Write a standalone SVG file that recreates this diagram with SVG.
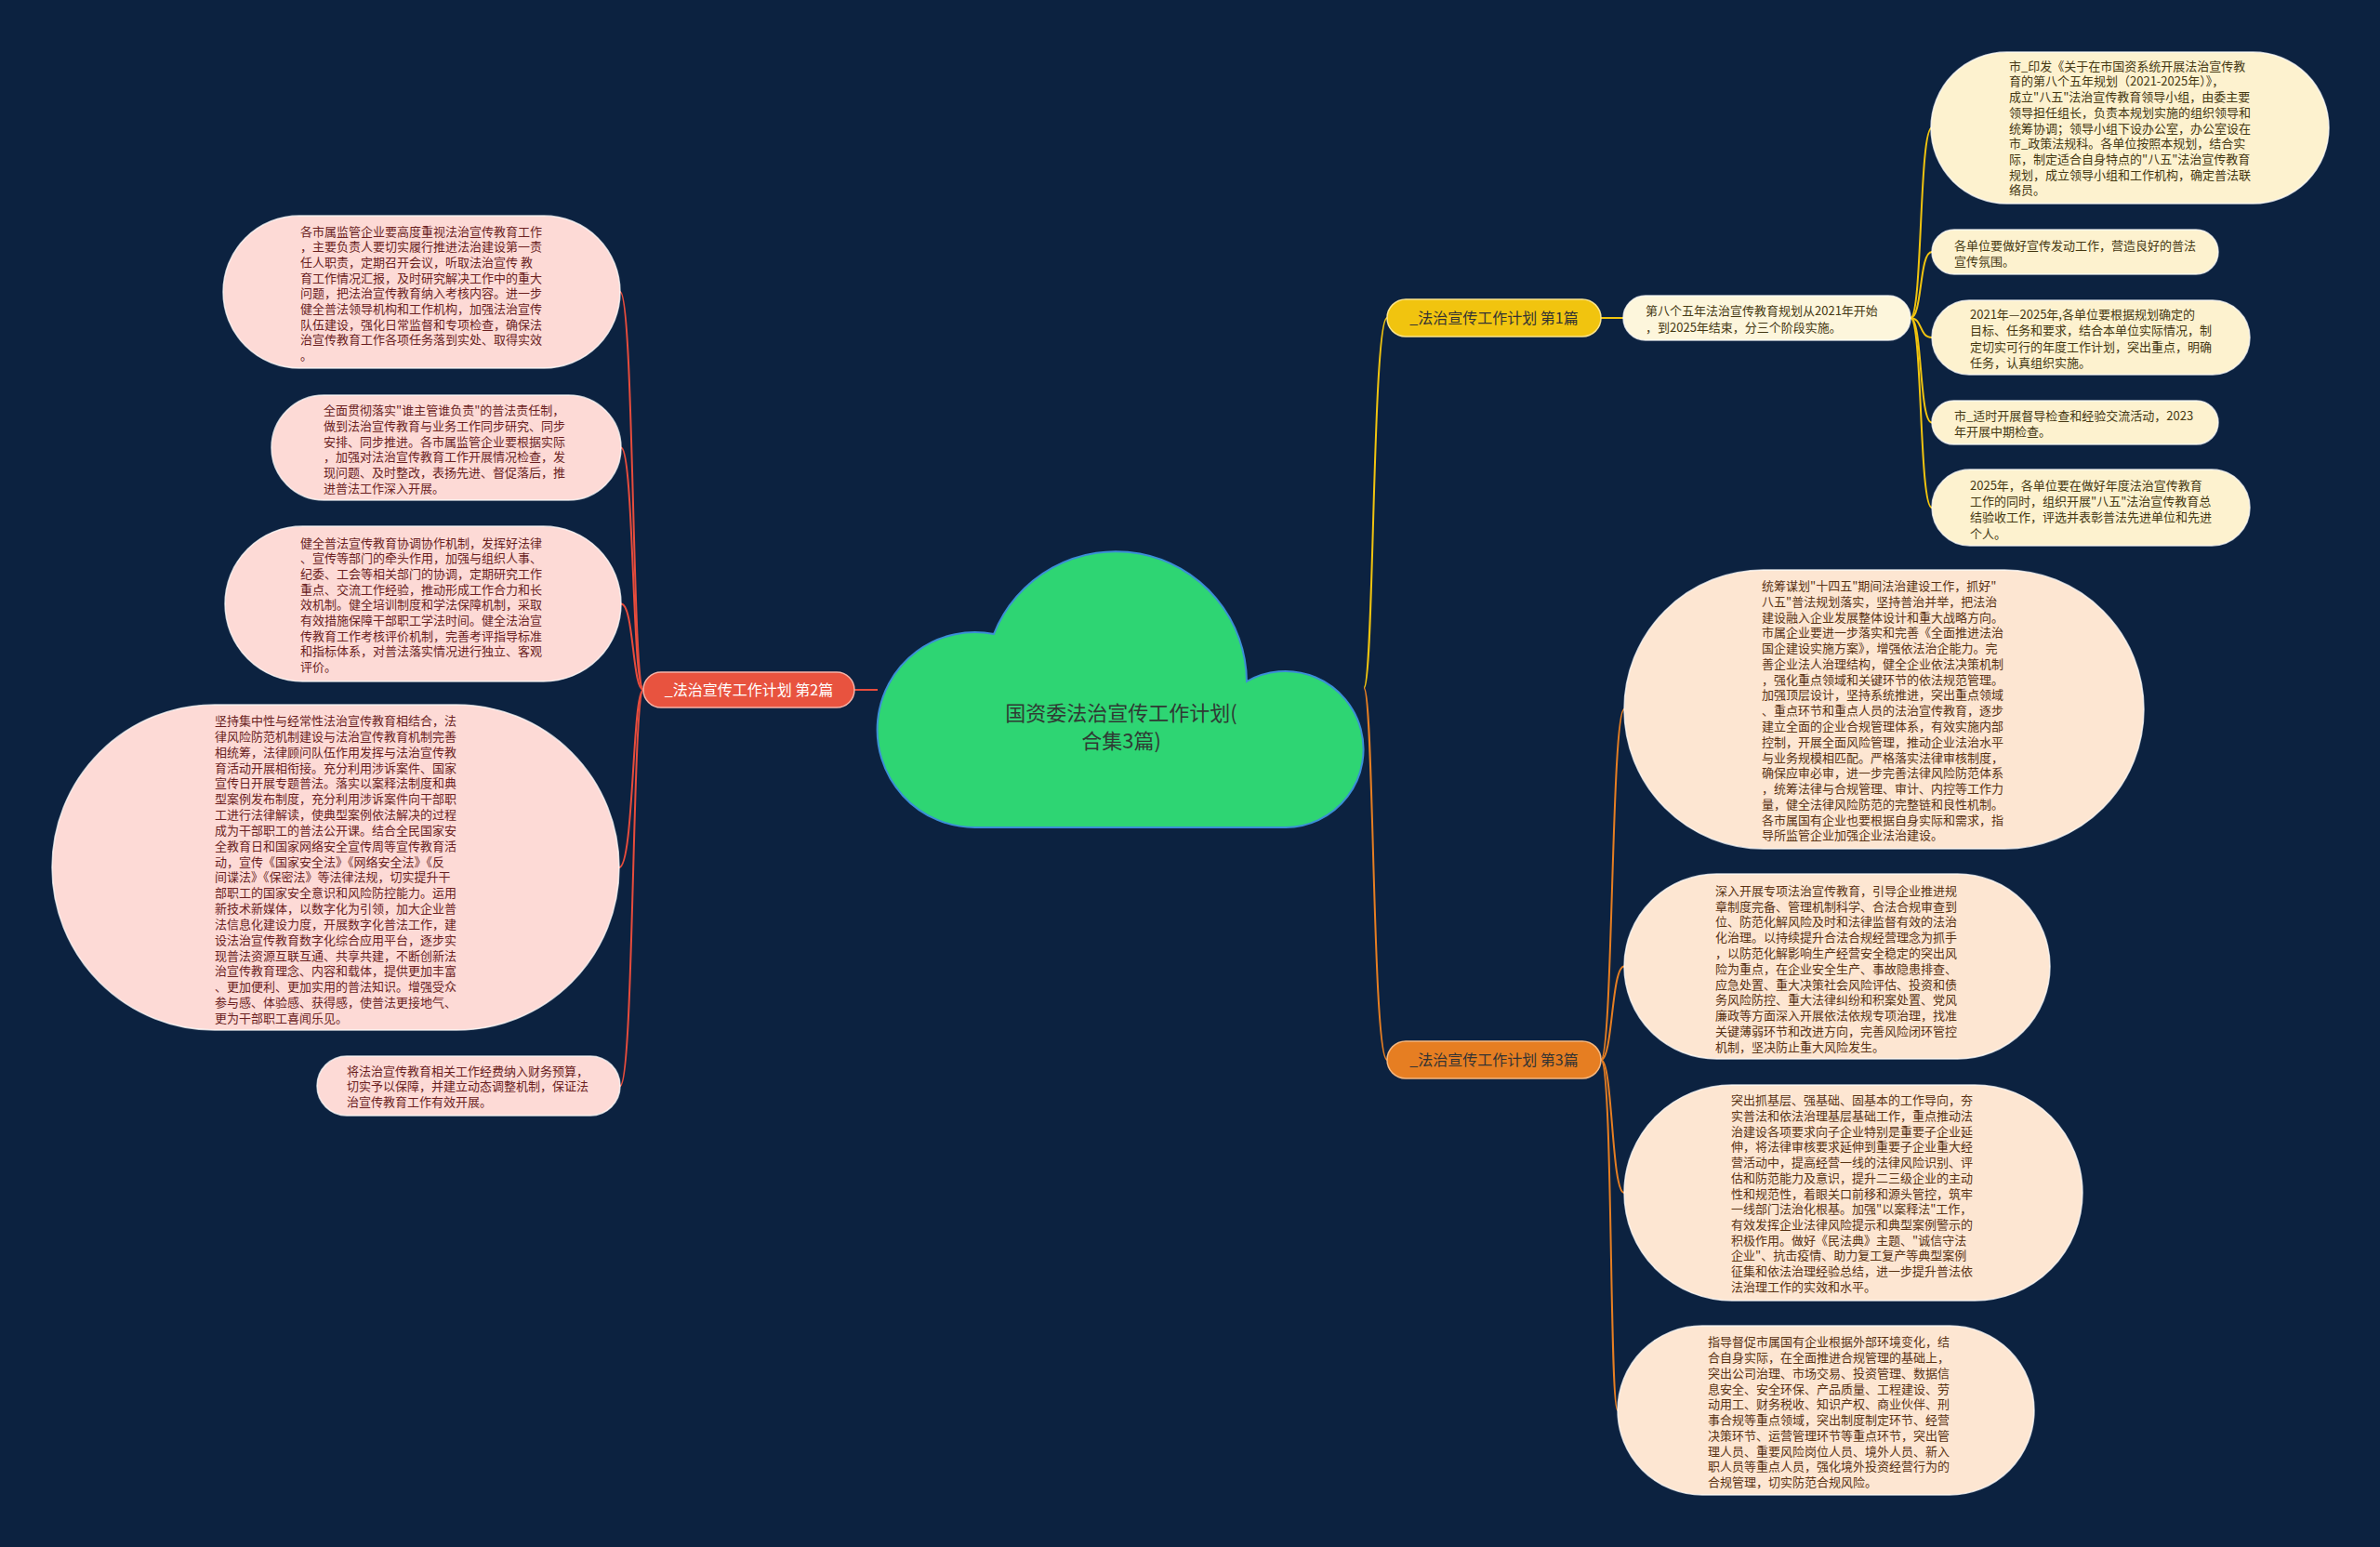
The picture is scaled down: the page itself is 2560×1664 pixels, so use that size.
<svg xmlns="http://www.w3.org/2000/svg" width="2560" height="1664" viewBox="0 0 2560 1664">
<style>
text{font-family:"Noto Sans CJK SC","Noto Sans",sans-serif;}
.t{font-size:13px;}
.lp{fill:#fddad6;stroke:#ffffff;stroke-opacity:.75;stroke-width:1.5;}
.ly{fill:#fdf2cf;stroke:#ffffff;stroke-opacity:.75;stroke-width:1.5;}
.lo{fill:#fde6d2;stroke:#ffffff;stroke-opacity:.75;stroke-width:1.5;}
.tp{fill:#6b1f1f;}
.ty{fill:#453812;}
.to{fill:#5a3314;}
.cy{fill:none;stroke:#f1c40f;stroke-width:2;}
.cr{fill:none;stroke:#e74c3c;stroke-width:2;}
.co{fill:none;stroke:#e67e22;stroke-width:2;}
.bt{font-size:16px;text-anchor:middle;}
</style>
<rect width="2560" height="1664" fill="#0c2240"/>
<g id="connectors">
<path class="cy" d="M1467,740 C1478,740 1476,342 1492,342"/>
<path class="co" d="M1467,740 C1478,740 1476,1140 1492,1140"/>
<path class="cr" d="M944,742 L919,742"/>
<path class="cy" d="M1722,342 L1746,342"/>
<path class="cy" d="M2055,342 C2068,342 2064,137.5 2078,137.5"/>
<path class="cy" d="M2055,342 C2068,342 2064,271 2078,271"/>
<path class="cy" d="M2055,342 C2068,342 2064,363 2078,363"/>
<path class="cy" d="M2055,342 C2068,342 2064,454.5 2078,454.5"/>
<path class="cy" d="M2055,342 C2068,342 2064,546 2078,546"/>
<path class="cr" d="M692,742 C680,742 682,314 667,314"/>
<path class="cr" d="M692,742 C680,742 682,481.5 668,481.5"/>
<path class="cr" d="M692,742 C680,742 682,649.5 668,649.5"/>
<path class="cr" d="M692,742 C680,742 682,933 666,933"/>
<path class="cr" d="M692,742 C680,742 682,1168 667,1168"/>
<path class="co" d="M1722,1140 C1735,1140 1733,763 1747,763"/>
<path class="co" d="M1722,1140 C1735,1140 1733,1039.5 1747,1039.5"/>
<path class="co" d="M1722,1140 C1735,1140 1733,1283 1747,1283"/>
<path class="co" d="M1722,1140 C1735,1140 1731,1517 1740,1517"/>
</g>
<g id="root">
<path d="M1049,890 A105,105 0 1 1 1069,682 A141,141 0 0 1 1341,733 A84,84 0 1 1 1383,890 Z" fill="#2ed573" stroke="#3b8fd6" stroke-width="2"/>
<text x="1206" y="774.5" font-size="22" fill="#2f3a33" text-anchor="middle">国资委法治宣传工作计划(</text>
<text x="1206" y="804.5" font-size="22" fill="#2f3a33" text-anchor="middle">合集3篇)</text>
</g>
<g id="branch1">
<rect x="1492" y="322" width="230" height="40" rx="20" fill="#f1c40f" stroke="#fbe48c" stroke-width="1.5"/>
<text class="bt" x="1607" y="347.8" fill="#333333">_法治宣传工作计划 第1篇</text>
</g>
<g id="branch1-note">
<rect x="1746" y="318" width="309" height="48" rx="24" fill="#fdf6dc" stroke="#ffffff" stroke-opacity=".75" stroke-width="1.5"/>
<text class="t ty"><tspan x="1770" y="339">第八个五年法治宣传教育规划从2021年开始</tspan><tspan x="1770" y="356.5">，到2025年结束，分三个阶段实施。</tspan></text>
</g>
<g id="leaf1-1">
<rect class="ly" x="2077" y="56" width="428" height="163" rx="81.5"/>
<text class="t ty"><tspan x="2161" y="75.7">市_印发《关于在市国资系统开展法治宣传教</tspan><tspan x="2161" y="92.4">育的第八个五年规划（2021-2025年）》，</tspan><tspan x="2161" y="109.1">成立"八五"法治宣传教育领导小组，由委主要</tspan><tspan x="2161" y="125.8">领导担任组长，负责本规划实施的组织领导和</tspan><tspan x="2161" y="142.5">统筹协调；领导小组下设办公室，办公室设在</tspan><tspan x="2161" y="159.2">市_政策法规科。各单位按照本规划，结合实</tspan><tspan x="2161" y="175.9">际，制定适合自身特点的"八五"法治宣传教育</tspan><tspan x="2161" y="192.6">规划，成立领导小组和工作机构，确定普法联</tspan><tspan x="2161" y="209.3">络员。</tspan></text>
</g>
<g id="leaf1-2">
<rect class="ly" x="2078" y="247" width="308" height="48" rx="24"/>
<text class="t ty"><tspan x="2102" y="268.7">各单位要做好宣传发动工作，营造良好的普法</tspan><tspan x="2102" y="286">宣传氛围。</tspan></text>
</g>
<g id="leaf1-3">
<rect class="ly" x="2078" y="323" width="342" height="80" rx="40"/>
<text class="t ty"><tspan x="2119" y="343">2021年—2025年,各单位要根据规划确定的</tspan><tspan x="2119" y="360.4">目标、任务和要求，结合本单位实际情况，制</tspan><tspan x="2119" y="377.8">定切实可行的年度工作计划，突出重点，明确</tspan><tspan x="2119" y="395.2">任务，认真组织实施。</tspan></text>
</g>
<g id="leaf1-4">
<rect class="ly" x="2078" y="431" width="308" height="47" rx="23.5"/>
<text class="t ty"><tspan x="2102" y="452">市_适时开展督导检查和经验交流活动，2023</tspan><tspan x="2102" y="469.3">年开展中期检查。</tspan></text>
</g>
<g id="leaf1-5">
<rect class="ly" x="2078" y="505" width="342" height="82" rx="41"/>
<text class="t ty"><tspan x="2119" y="526.7">2025年，各单位要在做好年度法治宣传教育</tspan><tspan x="2119" y="544">工作的同时，组织开展"八五"法治宣传教育总</tspan><tspan x="2119" y="561.3">结验收工作，评选并表彰普法先进单位和先进</tspan><tspan x="2119" y="578.6">个人。</tspan></text>
</g>
<g id="branch2">
<rect x="692" y="723" width="227" height="38" rx="19" fill="#e8533f" stroke="#f6b3a8" stroke-width="1.5"/>
<text class="bt" x="805.5" y="748" fill="#ffffff">_法治宣传工作计划 第2篇</text>
</g>
<g id="leaf2-1">
<rect class="lp" x="240" y="232" width="427" height="164" rx="82"/>
<text class="t tp"><tspan x="323" y="253.7">各市属监管企业要高度重视法治宣传教育工作</tspan><tspan x="323" y="270.4">，主要负责人要切实履行推进法治建设第一责</tspan><tspan x="323" y="287">任人职责，定期召开会议，听取法治宣传 教</tspan><tspan x="323" y="303.7">育工作情况汇报，及时研究解决工作中的重大</tspan><tspan x="323" y="320.4">问题，把法治宣传教育纳入考核内容。进一步</tspan><tspan x="323" y="337">健全普法领导机构和工作机构，加强法治宣传</tspan><tspan x="323" y="353.7">队伍建设，强化日常监督和专项检查，确保法</tspan><tspan x="323" y="370.4">治宣传教育工作各项任务落到实处、取得实效</tspan><tspan x="323" y="387">。</tspan></text>
</g>
<g id="leaf2-2">
<rect class="lp" x="292" y="425" width="376" height="113" rx="56.5"/>
<text class="t tp"><tspan x="348" y="446.3">全面贯彻落实"谁主管谁负责"的普法责任制，</tspan><tspan x="348" y="463">做到法治宣传教育与业务工作同步研究、同步</tspan><tspan x="348" y="479.7">安排、同步推进。各市属监管企业要根据实际</tspan><tspan x="348" y="496.4">，加强对法治宣传教育工作开展情况检查，发</tspan><tspan x="348" y="513.1">现问题、及时整改，表扬先进、督促落后，推</tspan><tspan x="348" y="529.8">进普法工作深入开展。</tspan></text>
</g>
<g id="leaf2-3">
<rect class="lp" x="242" y="566" width="426" height="167" rx="83.5"/>
<text class="t tp"><tspan x="323" y="588.7">健全普法宣传教育协调协作机制，发挥好法律</tspan><tspan x="323" y="605.4">、宣传等部门的牵头作用，加强与组织人事、</tspan><tspan x="323" y="622">纪委、工会等相关部门的协调，定期研究工作</tspan><tspan x="323" y="638.7">重点、交流工作经验，推动形成工作合力和长</tspan><tspan x="323" y="655.4">效机制。健全培训制度和学法保障机制，采取</tspan><tspan x="323" y="672">有效措施保障干部职工学法时间。健全法治宣</tspan><tspan x="323" y="688.7">传教育工作考核评价机制，完善考评指导标准</tspan><tspan x="323" y="705.4">和指标体系，对普法落实情况进行独立、客观</tspan><tspan x="323" y="722">评价。</tspan></text>
</g>
<g id="leaf2-4">
<rect class="lp" x="56" y="758" width="610" height="350" rx="175"/>
<text class="t tp"><tspan x="231" y="780">坚持集中性与经常性法治宣传教育相结合，法</tspan><tspan x="231" y="796.8">律风险防范机制建设与法治宣传教育机制完善</tspan><tspan x="231" y="813.7">相统筹，法律顾问队伍作用发挥与法治宣传教</tspan><tspan x="231" y="830.5">育活动开展相衔接。充分利用涉诉案件、国家</tspan><tspan x="231" y="847.3">宣传日开展专题普法。落实以案释法制度和典</tspan><tspan x="231" y="864.2">型案例发布制度，充分利用涉诉案件向干部职</tspan><tspan x="231" y="881">工进行法律解读，使典型案例依法解决的过程</tspan><tspan x="231" y="897.8">成为干部职工的普法公开课。结合全民国家安</tspan><tspan x="231" y="914.6">全教育日和国家网络安全宣传周等宣传教育活</tspan><tspan x="231" y="931.5">动，宣传《国家安全法》《网络安全法》《反</tspan><tspan x="231" y="948.3">间谍法》《保密法》等法律法规，切实提升干</tspan><tspan x="231" y="965.1">部职工的国家安全意识和风险防控能力。运用</tspan><tspan x="231" y="982">新技术新媒体，以数字化为引领，加大企业普</tspan><tspan x="231" y="998.8">法信息化建设力度，开展数字化普法工作，建</tspan><tspan x="231" y="1015.6">设法治宣传教育数字化综合应用平台，逐步实</tspan><tspan x="231" y="1032.5">现普法资源互联互通、共享共建，不断创新法</tspan><tspan x="231" y="1049.3">治宣传教育理念、内容和载体，提供更加丰富</tspan><tspan x="231" y="1066.1">、更加便利、更加实用的普法知识。增强受众</tspan><tspan x="231" y="1083">参与感、体验感、获得感，使普法更接地气、</tspan><tspan x="231" y="1099.8">更为干部职工喜闻乐见。</tspan></text>
</g>
<g id="leaf2-5">
<rect class="lp" x="341" y="1136" width="326" height="64" rx="32"/>
<text class="t tp"><tspan x="373" y="1156.7">将法治宣传教育相关工作经费纳入财务预算，</tspan><tspan x="373" y="1173.3">切实予以保障，并建立动态调整机制，保证法</tspan><tspan x="373" y="1190">治宣传教育工作有效开展。</tspan></text>
</g>
<g id="branch3">
<rect x="1492" y="1120" width="230" height="40" rx="20" fill="#e67e22" stroke="#f5b77f" stroke-width="1.5"/>
<text class="bt" x="1607" y="1145.8" fill="#333333">_法治宣传工作计划 第3篇</text>
</g>
<g id="leaf3-1">
<rect class="lo" x="1747" y="613" width="559" height="300" rx="150"/>
<text class="t to"><tspan x="1895" y="635">统筹谋划"十四五"期间法治建设工作，抓好"</tspan><tspan x="1895" y="651.8">八五"普法规划落实，坚持普治并举，把法治</tspan><tspan x="1895" y="668.5">建设融入企业发展整体设计和重大战略方向。</tspan><tspan x="1895" y="685.3">市属企业要进一步落实和完善《全面推进法治</tspan><tspan x="1895" y="702.1">国企建设实施方案》，增强依法治企能力。完</tspan><tspan x="1895" y="718.9">善企业法人治理结构，健全企业依法决策机制</tspan><tspan x="1895" y="735.6">，强化重点领域和关键环节的依法规范管理。</tspan><tspan x="1895" y="752.4">加强顶层设计，坚持系统推进，突出重点领域</tspan><tspan x="1895" y="769.2">、重点环节和重点人员的法治宣传教育，逐步</tspan><tspan x="1895" y="785.9">建立全面的企业合规管理体系，有效实施内部</tspan><tspan x="1895" y="802.7">控制，开展全面风险管理，推动企业法治水平</tspan><tspan x="1895" y="819.5">与业务规模相匹配。严格落实法律审核制度，</tspan><tspan x="1895" y="836.2">确保应审必审，进一步完善法律风险防范体系</tspan><tspan x="1895" y="853">，统筹法律与合规管理、审计、内控等工作力</tspan><tspan x="1895" y="869.8">量，健全法律风险防范的完整链和良性机制。</tspan><tspan x="1895" y="886.6">各市属国有企业也要根据自身实际和需求，指</tspan><tspan x="1895" y="903.3">导所监管企业加强企业法治建设。</tspan></text>
</g>
<g id="leaf3-2">
<rect class="lo" x="1747" y="940" width="458" height="199" rx="99.5"/>
<text class="t to"><tspan x="1845" y="962.7">深入开展专项法治宣传教育，引导企业推进规</tspan><tspan x="1845" y="979.5">章制度完备、管理机制科学、合法合规审查到</tspan><tspan x="1845" y="996.3">位、防范化解风险及时和法律监督有效的法治</tspan><tspan x="1845" y="1013.1">化治理。以持续提升合法合规经营理念为抓手</tspan><tspan x="1845" y="1029.9">，以防范化解影响生产经营安全稳定的突出风</tspan><tspan x="1845" y="1046.7">险为重点，在企业安全生产、事故隐患排查、</tspan><tspan x="1845" y="1063.5">应急处置、重大决策社会风险评估、投资和债</tspan><tspan x="1845" y="1080.3">务风险防控、重大法律纠纷和积案处置、党风</tspan><tspan x="1845" y="1097.1">廉政等方面深入开展依法依规专项治理，找准</tspan><tspan x="1845" y="1113.9">关键薄弱环节和改进方向，完善风险闭环管控</tspan><tspan x="1845" y="1130.7">机制，坚决防止重大风险发生。</tspan></text>
</g>
<g id="leaf3-3">
<rect class="lo" x="1747" y="1167" width="493" height="232" rx="116"/>
<text class="t to"><tspan x="1862" y="1188.3">突出抓基层、强基础、固基本的工作导向，夯</tspan><tspan x="1862" y="1205">实普法和依法治理基层基础工作，重点推动法</tspan><tspan x="1862" y="1221.7">治建设各项要求向子企业特别是重要子企业延</tspan><tspan x="1862" y="1238.4">伸，将法律审核要求延伸到重要子企业重大经</tspan><tspan x="1862" y="1255.1">营活动中，提高经营一线的法律风险识别、评</tspan><tspan x="1862" y="1271.8">估和防范能力及意识，提升二三级企业的主动</tspan><tspan x="1862" y="1288.5">性和规范性，着眼关口前移和源头管控，筑牢</tspan><tspan x="1862" y="1305.2">一线部门法治化根基。加强"以案释法"工作，</tspan><tspan x="1862" y="1321.9">有效发挥企业法律风险提示和典型案例警示的</tspan><tspan x="1862" y="1338.6">积极作用。做好《民法典》主题、"诚信守法</tspan><tspan x="1862" y="1355.3">企业"、抗击疫情、助力复工复产等典型案例</tspan><tspan x="1862" y="1372">征集和依法治理经验总结，进一步提升普法依</tspan><tspan x="1862" y="1388.7">法治理工作的实效和水平。</tspan></text>
</g>
<g id="leaf3-4">
<rect class="lo" x="1740" y="1426" width="448" height="182" rx="91"/>
<text class="t to"><tspan x="1837" y="1448.3">指导督促市属国有企业根据外部环境变化，结</tspan><tspan x="1837" y="1465">合自身实际，在全面推进合规管理的基础上，</tspan><tspan x="1837" y="1481.8">突出公司治理、市场交易、投资管理、数据信</tspan><tspan x="1837" y="1498.5">息安全、安全环保、产品质量、工程建设、劳</tspan><tspan x="1837" y="1515.3">动用工、财务税收、知识产权、商业伙伴、刑</tspan><tspan x="1837" y="1532">事合规等重点领域，突出制度制定环节、经营</tspan><tspan x="1837" y="1548.8">决策环节、运营管理环节等重点环节，突出管</tspan><tspan x="1837" y="1565.5">理人员、重要风险岗位人员、境外人员、新入</tspan><tspan x="1837" y="1582.3">职人员等重点人员，强化境外投资经营行为的</tspan><tspan x="1837" y="1599">合规管理，切实防范合规风险。</tspan></text>
</g>
</svg>
